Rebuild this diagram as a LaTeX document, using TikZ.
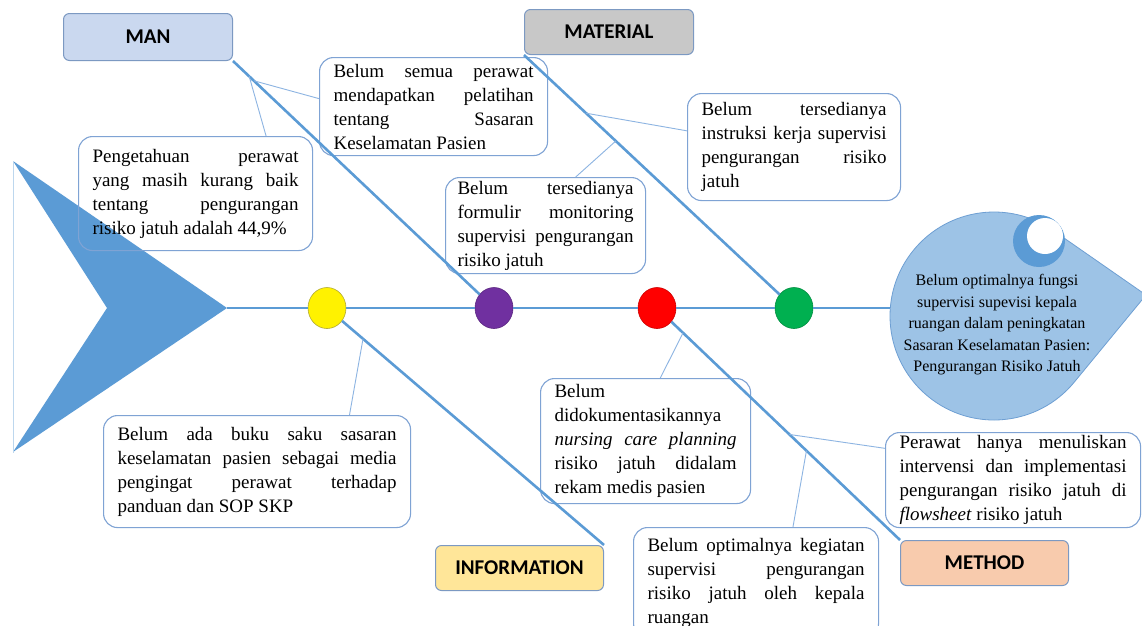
\documentclass[tikz,border=0pt]{standalone}
\usepackage{fontspec}
\setmainfont{Liberation Serif}
\newfontfamily\labelfont{Carlito}
\usetikzlibrary{calc,shapes.geometric}
\tolerance=10000
\hbadness=10000
\hyphenpenalty=10000
\exhyphenpenalty=10000

\definecolor{bonecol}{HTML}{5B9BD5}
\definecolor{linkcol}{HTML}{8DB4E2}
\definecolor{notecol}{HTML}{7FA3D4}
\definecolor{headfill}{HTML}{9DC3E6}
\definecolor{headdraw}{HTML}{6E9FD3}
\definecolor{manfill}{HTML}{CAD8EF}
\definecolor{matfill}{HTML}{C8C8C8}
\definecolor{infofill}{HTML}{FFE699}
\definecolor{methfill}{HTML}{F8CBAD}
\definecolor{labdraw}{HTML}{7C99C2}
\definecolor{dotpurple}{HTML}{7030A0}
\definecolor{dotgreen}{HTML}{00B050}
\definecolor{tailline}{HTML}{BDD7EE}

\tikzset{
  bone/.style={draw=bonecol, line width=2.6pt},
  link/.style={draw=linkcol, line width=0.9pt},
  note/.style={draw=notecol, line width=1.1pt, rounded corners=14pt, anchor=north west,
    inner xsep=14pt, inner ysep=0pt, align=justify, font=\fontsize{19}{24}\selectfont},
  lab/.style={draw=labdraw, line width=1pt, rounded corners=6pt, anchor=north west,
    minimum width=168pt, minimum height=45pt, inner sep=0pt,
    font=\labelfont\bfseries\fontsize{21}{24}\selectfont},
  dot/.style={ellipse, minimum width=38pt, minimum height=41pt, inner sep=0pt, line width=0.6pt},
  headtext/.style={align=center, font=\fontsize{16}{21.5}\selectfont, inner sep=0pt},
}

\begin{document}
\begin{tikzpicture}[x=1pt,y=-1pt]
\useasboundingbox (0,0) rectangle (1142,625);
\clip (0,0) rectangle (1142,625);
\fill[white] (0,0) rectangle (1142,625);

% tail
\fill[bonecol] (13,161) -- (227,308) -- (13,452) -- (107,308) -- cycle;
\draw[tailline, line width=0.8pt] (13,161) -- (13,453);
\coordinate (tailtip) at (227,308);

% head
\coordinate (hc) at (994,316);
\filldraw[fill=headfill, draw=headdraw, line width=0.8pt]
  (1146,295) -- ($(hc)+(-39.4:104pt)$) arc[start angle=-39.4, end angle=-304.8, radius=104pt] -- cycle;
\fill[bonecol] (1039,241) circle[radius=26pt];
\fill[white] (1045,236) circle[radius=18pt];
\coordinate (headleft) at (890,308);

% spine dots
\node[dot, fill=yellow, draw=olive!70] (yellow) at (327,308) {};
\node[dot, fill=dotpurple, draw=dotpurple!80!black] (purple) at (494,308) {};
\node[dot, fill=red, draw=red!80!black] (red) at (657,308) {};
\node[dot, fill=dotgreen, draw=dotgreen!80!black] (green) at (794,308) {};

% category labels
\node[lab, fill=manfill, minimum width=169pt, minimum height=47pt] (man) at (63,13) {MAN};
\node[lab, fill=matfill, minimum width=169pt] (material) at (524,9) {MATERIAL};
\node[lab, fill=infofill] (info) at (435,545) {INFORMATION};
\node[lab, fill=methfill] (method) at (900,540) {METHOD};

% notes
\node[note, text width=206pt, minimum height=114pt] (n1) at (78,136)
  {Pengetahuan perawat\linebreak yang masih kurang baik\linebreak tentang pengurangan\linebreak risiko jatuh adalah 44,9\%};
\node[note, text width=200pt, minimum height=98pt] (n2) at (319,57)
  {Belum semua perawat\linebreak mendapatkan pelatihan\linebreak tentang Sasaran\linebreak Keselamatan Pasien};
\node[note, inner xsep=12pt, text width=176pt, minimum height=96pt] (n3) at (445,177)
  {Belum tersedianya\linebreak formulir monitoring\linebreak supervisi pengurangan\linebreak risiko jatuh};
\node[note, text width=185pt, minimum height=107pt] (n4) at (687,93)
  {Belum tersedianya\linebreak instruksi kerja supervisi\linebreak pengurangan risiko\linebreak jatuh};
\node[note, text width=279pt, minimum height=112pt] (n5) at (103,415)
  {Belum ada buku saku sasaran\linebreak keselamatan pasien sebagai media\linebreak pengingat perawat terhadap\linebreak panduan dan SOP SKP};
\node[note, text width=182pt, minimum height=125pt] (n6) at (540,378)
  {Belum\linebreak didokumentasikannya\linebreak \textit{nursing care planning}\linebreak risiko jatuh didalam\linebreak rekam medis pasien};
\node[note, text width=227pt, minimum height=95pt] (n7) at (885,432)
  {Perawat hanya menuliskan\linebreak intervensi dan implementasi\linebreak pengurangan risiko jatuh di\linebreak \textit{flowsheet} risiko jatuh};
\node[note, text width=217pt, minimum height=110pt] (n8) at (633,527)
  {Belum optimalnya kegiatan\linebreak supervisi pengurangan\linebreak risiko jatuh oleh kepala\linebreak ruangan};

% head text
\node[headtext] (goal) at (997,325)
  {Belum optimalnya fungsi\\supervisi supevisi kepala\\ruangan dalam peningkatan\\Sasaran Keselamatan Pasien:\\Pengurangan Risiko Jatuh};

% spine
\draw[bone] (tailtip) -- (yellow);
\draw[bone] (yellow) -- (purple);
\draw[bone] (purple) -- (red);
\draw[bone] (red) -- (green);
\draw[bone] (green) -- (headleft);

% bones
\draw[bone] (man.south east) -- (purple);
\draw[bone] (material.south west) -- (green);
\draw[bone] (yellow) -- (info.north east);
\draw[bone] (red) -- (method.north west);

% connectors
\draw[link] ($(man.south east)!0.062!(purple.center)$) -- ($(n1.north west)!0.80!(n1.north east)$);
\draw[link] ($(man.south east)!0.08!(purple.center)$) -- ($(n2.north west)!0.42!(n2.south west)$);
\draw[link] ($(material.south west)!0.34!(green.center)$) -- ($(n3.north west)!0.65!(n3.north east)$);
\draw[link] ($(material.south west)!0.23!(green.center)$) -- ($(n4.north west)!0.35!(n4.south west)$);
\draw[link] ($(yellow.center)!0.13!(info.north east)$) -- ($(n5.north west)!0.80!(n5.north east)$);
\draw[link] ($(red.center)!0.107!(method.north west)$) -- ($(n6.north west)!0.57!(n6.north east)$);
\draw[link] ($(red.center)!0.545!(method.north west)$) -- ($(n7.north west)!0.17!(n7.south west)$);
\draw[link] ($(red.center)!0.615!(method.north west)$) -- ($(n8.north west)!0.65!(n8.north east)$);
\end{tikzpicture}
\end{document}
